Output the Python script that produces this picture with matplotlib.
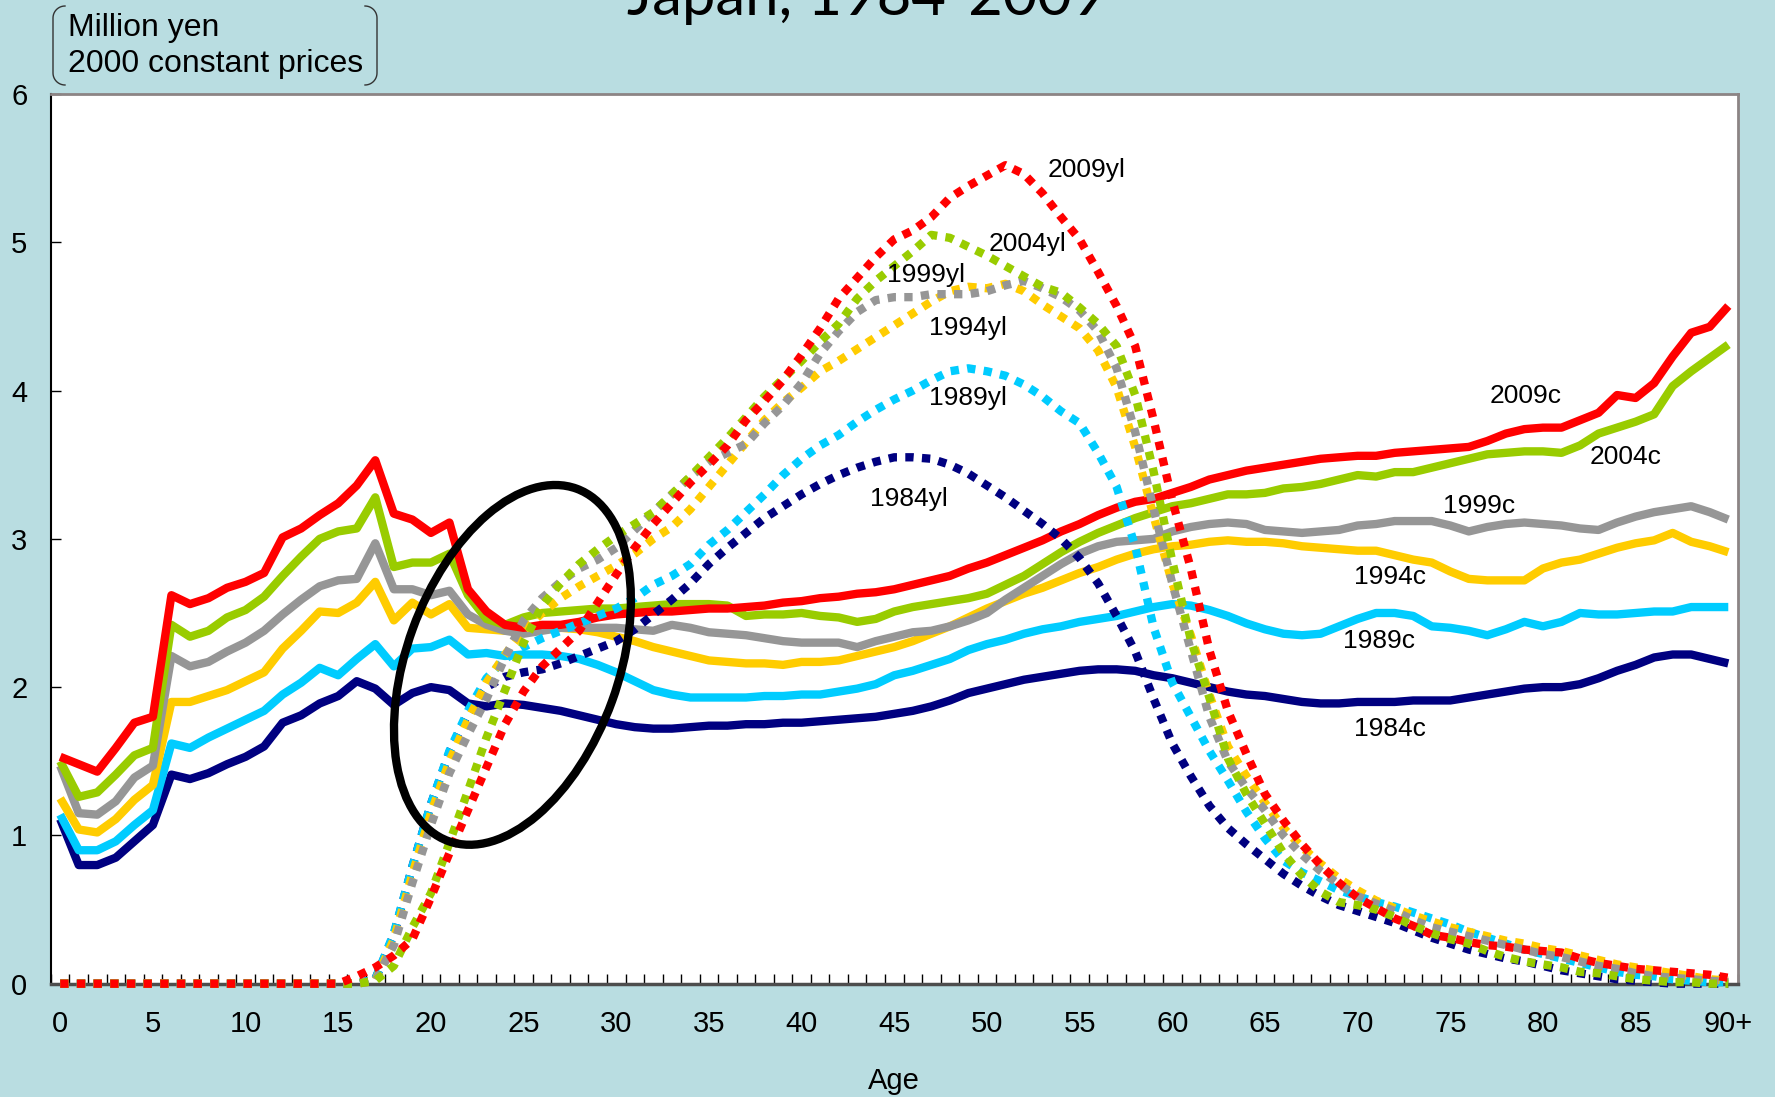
import numpy as np
import matplotlib
matplotlib.use("Agg")
import matplotlib.pyplot as plt
from matplotlib.patches import Ellipse
from matplotlib.lines import Line2D
from matplotlib.transforms import IdentityTransform

# ages 0..90 (90 = 90+)
ages = np.arange(0, 91)
tick_ages = list(range(0, 91, 5))
tick_labels = [str(a) for a in range(0, 90, 5)] + ['90+']

years = ['1984', '1989', '1994', '1999', '2004', '2009']
colors = ['#000080', '#00ccff', '#ffcc00', '#969696', '#99cc00', '#ff0000']

# per capita consumption (c), million yen
c_1984 = [1.11, 0.80, 0.80, 0.85, 0.96, 1.07, 1.41, 1.38, 1.42, 1.48, 1.53, 1.60, 1.76, 1.81, 1.89, 1.94,
          2.04, 1.99, 1.88, 1.96, 2.00, 1.98, 1.89, 1.87, 1.89, 1.88, 1.86, 1.84, 1.81, 1.78, 1.75, 1.73,
          1.72, 1.72, 1.73, 1.74, 1.74, 1.75, 1.75, 1.76, 1.76, 1.77, 1.78, 1.79, 1.80, 1.82, 1.84, 1.87,
          1.91, 1.96, 1.99, 2.02, 2.05, 2.07, 2.09, 2.11, 2.12, 2.12, 2.11, 2.08, 2.06, 2.03, 2.00, 1.97,
          1.95, 1.94, 1.92, 1.90, 1.89, 1.89, 1.90, 1.90, 1.90, 1.91, 1.91, 1.91, 1.93, 1.95, 1.97, 1.99,
          2.00, 2.00, 2.02, 2.06, 2.11, 2.15, 2.20, 2.22, 2.22, 2.19, 2.16]
c_1989 = [1.14, 0.90, 0.90, 0.96, 1.07, 1.17, 1.62, 1.59, 1.66, 1.72, 1.78, 1.84, 1.95, 2.03, 2.13, 2.08,
          2.19, 2.29, 2.14, 2.26, 2.27, 2.32, 2.22, 2.23, 2.21, 2.22, 2.22, 2.21, 2.19, 2.15, 2.10, 2.04,
          1.98, 1.95, 1.93, 1.93, 1.93, 1.93, 1.94, 1.94, 1.95, 1.95, 1.97, 1.99, 2.02, 2.08, 2.11, 2.15,
          2.19, 2.25, 2.29, 2.32, 2.36, 2.39, 2.41, 2.44, 2.46, 2.48, 2.51, 2.54, 2.56, 2.55, 2.52, 2.48,
          2.43, 2.39, 2.36, 2.35, 2.36, 2.41, 2.46, 2.50, 2.50, 2.48, 2.41, 2.40, 2.38, 2.35, 2.39, 2.44,
          2.41, 2.44, 2.50, 2.49, 2.49, 2.50, 2.51, 2.51, 2.54, 2.54, 2.54]
c_1994 = [1.25, 1.04, 1.02, 1.11, 1.24, 1.34, 1.90, 1.90, 1.94, 1.98, 2.04, 2.10, 2.26, 2.38, 2.51, 2.50,
          2.57, 2.71, 2.45, 2.57, 2.49, 2.56, 2.40, 2.39, 2.38, 2.39, 2.40, 2.40, 2.39, 2.37, 2.34, 2.31,
          2.27, 2.24, 2.21, 2.18, 2.17, 2.16, 2.16, 2.15, 2.17, 2.17, 2.18, 2.21, 2.24, 2.27, 2.31, 2.36,
          2.41, 2.47, 2.53, 2.58, 2.63, 2.67, 2.72, 2.77, 2.81, 2.86, 2.90, 2.93, 2.95, 2.96, 2.98, 2.99,
          2.98, 2.98, 2.97, 2.95, 2.94, 2.93, 2.92, 2.92, 2.89, 2.86, 2.84, 2.78, 2.73, 2.72, 2.72, 2.72,
          2.80, 2.84, 2.86, 2.90, 2.94, 2.97, 2.99, 3.04, 2.98, 2.95, 2.91]
c_1999 = [1.47, 1.15, 1.14, 1.23, 1.39, 1.47, 2.21, 2.14, 2.17, 2.24, 2.30, 2.38, 2.49, 2.59, 2.68, 2.72,
          2.73, 2.97, 2.66, 2.66, 2.62, 2.65, 2.49, 2.42, 2.38, 2.36, 2.38, 2.40, 2.40, 2.40, 2.40, 2.39,
          2.38, 2.42, 2.40, 2.37, 2.36, 2.35, 2.33, 2.31, 2.30, 2.30, 2.30, 2.27, 2.31, 2.34, 2.37, 2.38,
          2.41, 2.45, 2.50, 2.59, 2.67, 2.75, 2.83, 2.90, 2.95, 2.98, 2.99, 3.00, 3.05, 3.08, 3.10, 3.11,
          3.10, 3.06, 3.05, 3.04, 3.05, 3.06, 3.09, 3.10, 3.12, 3.12, 3.12, 3.09, 3.05, 3.08, 3.10, 3.11,
          3.10, 3.09, 3.07, 3.06, 3.11, 3.15, 3.18, 3.20, 3.22, 3.18, 3.13]
c_2004 = [1.50, 1.26, 1.29, 1.41, 1.54, 1.59, 2.42, 2.34, 2.38, 2.47, 2.52, 2.61, 2.75, 2.88, 3.00, 3.05,
          3.07, 3.28, 2.81, 2.84, 2.84, 2.90, 2.62, 2.46, 2.42, 2.47, 2.50, 2.51, 2.52, 2.53, 2.53, 2.54,
          2.55, 2.56, 2.56, 2.56, 2.55, 2.48, 2.49, 2.49, 2.50, 2.48, 2.47, 2.44, 2.46, 2.51, 2.54, 2.56,
          2.58, 2.60, 2.63, 2.69, 2.75, 2.83, 2.91, 2.98, 3.04, 3.09, 3.14, 3.18, 3.22, 3.24, 3.27, 3.30,
          3.30, 3.31, 3.34, 3.35, 3.37, 3.40, 3.43, 3.42, 3.45, 3.45, 3.48, 3.51, 3.54, 3.57, 3.58, 3.59,
          3.59, 3.58, 3.63, 3.71, 3.75, 3.79, 3.84, 4.03, 4.13, 4.22, 4.31]
c_2009 = [1.53, 1.48, 1.43, 1.59, 1.76, 1.80, 2.62, 2.56, 2.60, 2.67, 2.71, 2.77, 3.01, 3.07, 3.16, 3.24,
          3.36, 3.53, 3.17, 3.13, 3.04, 3.11, 2.66, 2.51, 2.42, 2.40, 2.42, 2.42, 2.44, 2.47, 2.49, 2.50,
          2.51, 2.51, 2.52, 2.53, 2.53, 2.54, 2.55, 2.57, 2.58, 2.60, 2.61, 2.63, 2.64, 2.66, 2.69, 2.72,
          2.75, 2.80, 2.84, 2.89, 2.94, 2.99, 3.05, 3.10, 3.16, 3.21, 3.25, 3.27, 3.31, 3.35, 3.40, 3.43,
          3.46, 3.48, 3.50, 3.52, 3.54, 3.55, 3.56, 3.56, 3.58, 3.59, 3.60, 3.61, 3.62, 3.66, 3.71, 3.74,
          3.75, 3.75, 3.80, 3.85, 3.97, 3.95, 4.05, 4.23, 4.39, 4.43, 4.57]

# per capita labour income (yl), million yen
yl_1984 = [0] * 17 + [
    0.03, 0.33, 0.79, 1.21, 1.56, 1.82, 2.00, 2.07, 2.10, 2.12, 2.16, 2.21, 2.26, 2.31, 2.39,
    2.49, 2.59, 2.70, 2.83, 2.94, 3.04, 3.14, 3.22, 3.30, 3.37, 3.43, 3.48, 3.52, 3.55, 3.55, 3.54,
    3.50, 3.44, 3.36, 3.28, 3.19, 3.10, 3.00, 2.87, 2.70, 2.48, 2.24, 1.92, 1.62, 1.40, 1.20, 1.05,
    0.94, 0.84, 0.74, 0.66, 0.59, 0.53, 0.49, 0.45, 0.41, 0.36, 0.31, 0.27, 0.23, 0.20, 0.17, 0.15,
    0.12, 0.09, 0.07, 0.05, 0.03, 0.02, 0.01, 0.0, 0.0, 0.0, 0.0]
yl_1989 = [0] * 17 + [
    0.03, 0.34, 0.79, 1.21, 1.57, 1.84, 2.06, 2.19, 2.27, 2.33, 2.38, 2.43, 2.48, 2.53, 2.60,
    2.69, 2.75, 2.83, 2.96, 3.06, 3.18, 3.30, 3.43, 3.54, 3.63, 3.70, 3.79, 3.87, 3.94, 4.00, 4.07,
    4.13, 4.15, 4.13, 4.10, 4.04, 3.96, 3.86, 3.78, 3.58, 3.35, 2.95, 2.40, 2.03, 1.80, 1.57, 1.37,
    1.16, 0.98, 0.83, 0.75, 0.69, 0.63, 0.59, 0.55, 0.52, 0.48, 0.44, 0.40, 0.35, 0.31, 0.27, 0.23,
    0.20, 0.17, 0.14, 0.11, 0.08, 0.06, 0.05, 0.03, 0.02, 0.01, 0.01]
yl_1994 = [0] * 17 + [
    0.02, 0.30, 0.74, 1.15, 1.50, 1.78, 2.03, 2.22, 2.38, 2.50, 2.60, 2.68, 2.75, 2.82, 2.90,
    3.00, 3.08, 3.20, 3.35, 3.50, 3.65, 3.80, 3.92, 4.02, 4.13, 4.20, 4.28, 4.36, 4.44, 4.52, 4.60,
    4.67, 4.70, 4.69, 4.72, 4.67, 4.58, 4.50, 4.42, 4.27, 4.02, 3.62, 3.15, 2.70, 2.35, 1.95, 1.60,
    1.40, 1.22, 1.05, 0.92, 0.81, 0.71, 0.63, 0.56, 0.51, 0.46, 0.42, 0.38, 0.35, 0.32, 0.29, 0.27,
    0.24, 0.22, 0.19, 0.16, 0.13, 0.11, 0.09, 0.07, 0.05, 0.03, 0.02]
yl_1999 = [0] * 17 + [
    0.02, 0.26, 0.68, 1.07, 1.42, 1.68, 1.92, 2.20, 2.45, 2.60, 2.71, 2.80, 2.86, 2.94, 3.06,
    3.18, 3.30, 3.42, 3.52, 3.58, 3.64, 3.78, 3.90, 4.05, 4.25, 4.40, 4.53, 4.61, 4.63, 4.63, 4.65,
    4.65, 4.65, 4.67, 4.71, 4.74, 4.69, 4.63, 4.54, 4.40, 4.15, 3.72, 3.20, 2.70, 2.25, 1.80, 1.50,
    1.32, 1.17, 1.00, 0.87, 0.76, 0.67, 0.59, 0.54, 0.49, 0.43, 0.38, 0.35, 0.32, 0.29, 0.26, 0.23,
    0.20, 0.18, 0.15, 0.12, 0.10, 0.07, 0.05, 0.04, 0.03, 0.02, 0.01]
yl_2004 = [0] * 17 + [
    0.02, 0.12, 0.38, 0.61, 0.95, 1.30, 1.66, 1.98, 2.30, 2.55, 2.70, 2.83, 2.93, 3.02, 3.10,
    3.18, 3.30, 3.42, 3.55, 3.68, 3.82, 3.96, 4.08, 4.20, 4.33, 4.45, 4.62, 4.74, 4.84, 4.94, 5.05,
    5.03, 4.97, 4.91, 4.84, 4.77, 4.70, 4.66, 4.56, 4.45, 4.30, 3.97, 3.45, 2.85, 2.32, 1.93, 1.52,
    1.28, 1.08, 0.88, 0.73, 0.62, 0.55, 0.53, 0.50, 0.45, 0.39, 0.34, 0.30, 0.27, 0.22, 0.18, 0.15,
    0.13, 0.11, 0.08, 0.07, 0.05, 0.03, 0.02, 0.01, 0.01, 0.0, 0.0]
yl_2009 = [0] * 16 + [
    0.05, 0.11, 0.19, 0.30, 0.58, 0.88, 1.17, 1.46, 1.75, 1.97, 2.14, 2.26, 2.38, 2.57, 2.76, 2.94,
    3.10, 3.24, 3.38, 3.50, 3.63, 3.80, 3.93, 4.07, 4.24, 4.42, 4.62, 4.76, 4.90, 5.02, 5.08, 5.17,
    5.30, 5.38, 5.45, 5.52, 5.46, 5.33, 5.17, 5.02, 4.80, 4.57, 4.30, 3.80, 3.26, 2.80, 2.25, 1.84,
    1.55, 1.28, 1.10, 0.94, 0.80, 0.68, 0.58, 0.51, 0.44, 0.39, 0.33, 0.31, 0.28, 0.26, 0.25, 0.23,
    0.22, 0.21, 0.17, 0.14, 0.12, 0.10, 0.09, 0.08, 0.07, 0.06, 0.04]

c_series = [c_1984, c_1989, c_1994, c_1999, c_2004, c_2009]
yl_series = [yl_1984, yl_1989, yl_1994, yl_1999, yl_2004, yl_2009]

# where the series names sit (age, value)
c_label_pos = [(69.8, 1.72), (69.2, 2.31), (69.8, 2.74), (74.6, 3.22), (82.5, 3.55), (77.1, 3.96)]
yl_label_pos = [(43.7, 3.27), (46.9, 3.95), (46.9, 4.42), (44.6, 4.78), (50.1, 4.99), (53.3, 5.49)]

bg = '#b9dde1'
W, H = 1775, 1097
fig = plt.figure(figsize=(W / 100, H / 100), dpi=100, facecolor=bg)
ax = fig.add_axes([0.0287, 0.1033, 0.9502, 0.811])
ax.set_facecolor('white')

lw = 6.0
for vals, col in zip(c_series, colors):
    ax.plot(ages, vals, color=col, lw=lw, solid_joinstyle='round', solid_capstyle='butt', zorder=2)
for vals, col in zip(yl_series, colors):
    # dots sitting on the zero line overlap the axis, as in the original
    ax.plot(ages, vals, color=col, lw=lw, linestyle=(0, (1, 1)), dash_capstyle='butt',
            zorder=3, clip_on=False)

for y, (a, v) in zip(years, c_label_pos):
    ax.text(a, v, y + 'c', fontsize=19, family='Liberation Sans', va='center', ha='left', zorder=6)
for y, (a, v) in zip(years, yl_label_pos):
    ax.text(a, v, y + 'yl', fontsize=19, family='Liberation Sans', va='center', ha='left', zorder=6)

ax.set_xlim(-0.5, 90.5)
ax.set_ylim(0, 6)
ax.set_yticks(range(0, 7))
ax.set_xticks(tick_ages)
ax.set_xticklabels(tick_labels)
ax.set_xticks(np.arange(-0.5, 91, 1), minor=True)
ax.tick_params(axis='x', which='major', length=0, pad=19, labelsize=21)
ax.tick_params(axis='x', which='minor', direction='in', length=7, width=1, color='black')
ax.tick_params(axis='y', direction='in', length=7, width=1, pad=17, labelsize=21)
for lab in ax.get_xticklabels() + ax.get_yticklabels():
    lab.set_family('Liberation Sans')

ax.spines['left'].set_color('black')
ax.spines['left'].set_linewidth(1.5)
ax.spines['bottom'].set_color('#4d4d4d')
ax.spines['bottom'].set_linewidth(2.5)
for s in ['top', 'right']:
    ax.spines[s].set_color('#8c8484')
    ax.spines[s].set_linewidth(2)

ax.text(0.5, -0.109, 'Age', transform=ax.transAxes, fontsize=21, family='Liberation Sans',
        ha='center', va='center')

# black ellipse highlighting the entry ages
fig.canvas.draw()
cx, cy = ax.transData.transform((24.4, 2.15))
ell = Ellipse((cx, cy), 375, 212, angle=70, transform=IdentityTransform(),
              fill=False, edgecolor='black', lw=6, zorder=5)
ax.add_artist(ell)

# title (cut at the top edge) and unit note
fig.text(0.488, 1 - 15 / H, 'Japan, 1984-2009', fontsize=43, family='Lato', ha='center', va='baseline')
fig.text(68 / W, 1 - 46 / H, 'Million yen\n2000 constant prices', fontsize=23, family='Liberation Sans',
         ha='left', va='center', linespacing=1.25)

# bracket shapes around the unit note
r = 12
t = np.linspace(0, np.pi / 2, 12)
xl, xr, yt, yb = 53, 377, H - 6, H - 85
left_x = np.concatenate([xl + r - r * np.sin(t), [xl, xl], xl + r - r * np.cos(t)])
left_y = np.concatenate([yt - r + r * np.cos(t), [yt - r, yb + r], yb + r - r * np.sin(t)])
right_x = 2 * ((xl + xr) / 2) - left_x
for bx, by in [(left_x, left_y), (right_x, left_y)]:
    fig.add_artist(Line2D(bx / W, by / H, transform=fig.transFigure, color='#333333', lw=1))

fig.savefig('out.png', dpi=100, facecolor=bg)
